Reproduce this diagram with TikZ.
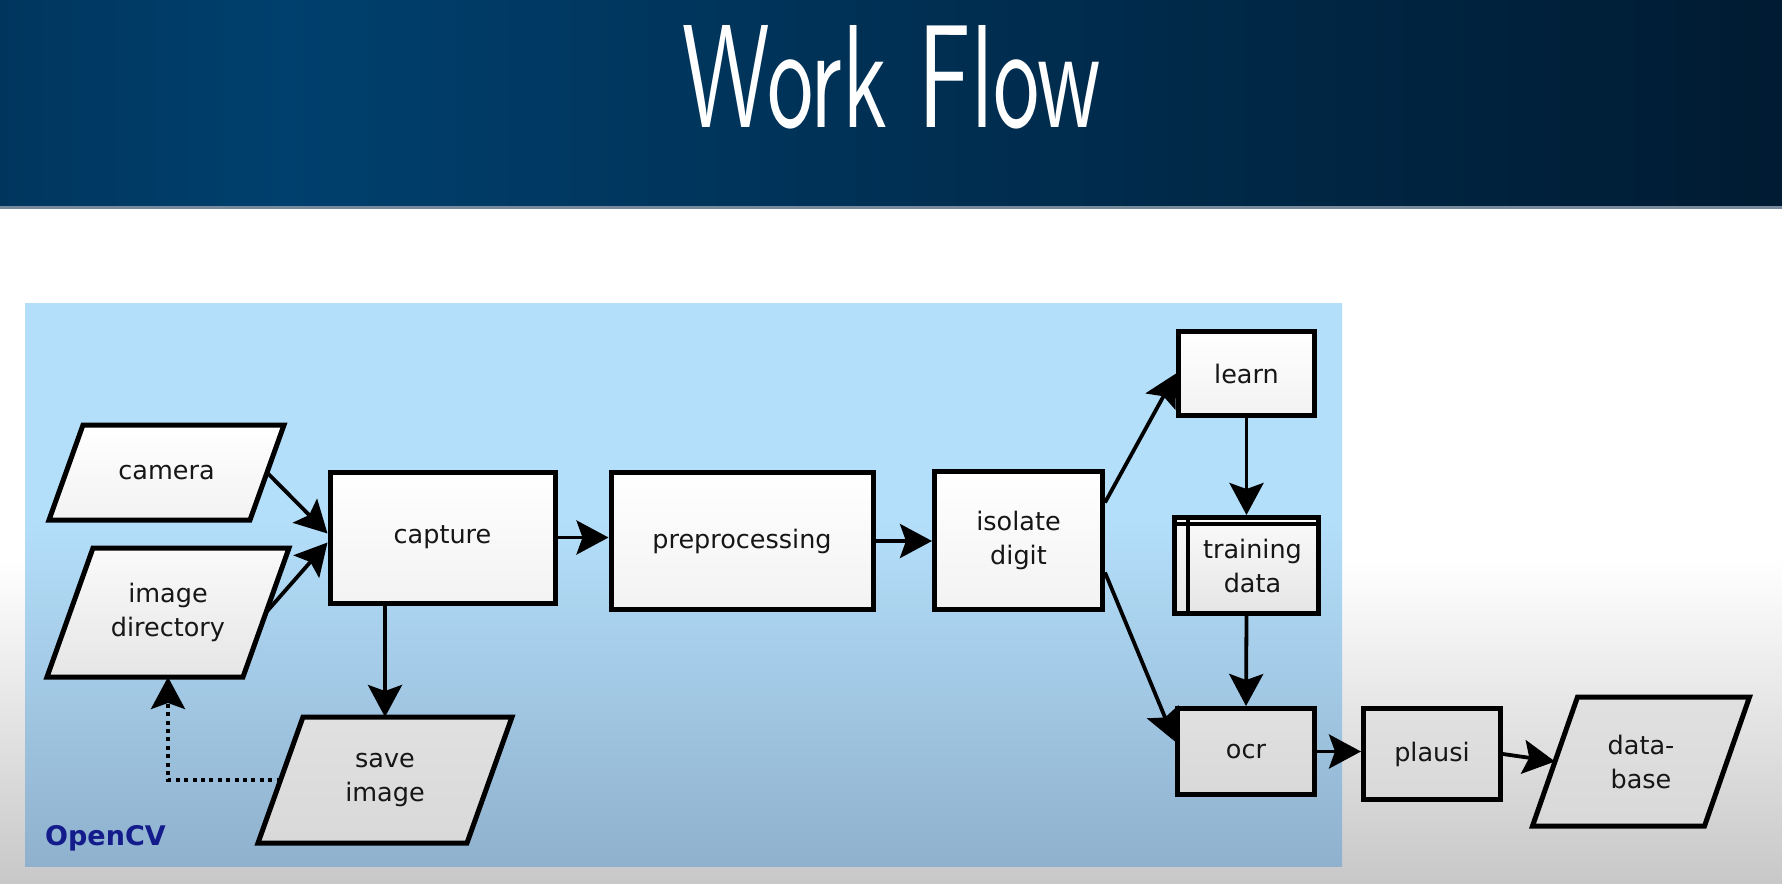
\documentclass[tikz,border=0pt]{standalone}
\usepackage{fontspec}
\usepackage{graphicx}
\setmainfont{DejaVu Sans}
\usetikzlibrary{arrows.meta,calc}

% colours
\definecolor{txt}{RGB}{22,22,22}
\definecolor{hdrL}{RGB}{0,54,94}
\definecolor{hdrM}{RGB}{0,64,110}
\definecolor{hdrC}{RGB}{0,48,84}
\definecolor{hdrR}{RGB}{0,27,50}
\definecolor{hdrline}{RGB}{120,138,156}
\definecolor{pageTop}{RGB}{255,255,255}
\definecolor{pageBot}{RGB}{200,200,200}
\definecolor{panelA}{RGB}{180,223,250}
\definecolor{panelB}{RGB}{143,177,206}
\definecolor{ocvblue}{RGB}{20,28,140}

% background shadings
\pgfdeclarehorizontalshading{hdrshade}{100bp}{color(0bp)=(hdrL); color(25bp)=(hdrL); color(33bp)=(hdrM); color(50bp)=(hdrC); color(75bp)=(hdrR); color(100bp)=(hdrR)}
\pgfdeclareverticalshading{pagefade}{100bp}{color(0bp)=(pageBot); color(25bp)=(pageBot); color(49bp)=(pageTop); color(100bp)=(pageTop)}
\pgfdeclareverticalshading{panelshade}{100bp}{color(0bp)=(panelB); color(25bp)=(panelB); color(56bp)=(panelA); color(100bp)=(panelA)}

\tikzset{
  lbl/.style={font=\fontsize{25.5}{34}\selectfont, text=txt, align=center, inner sep=0pt},
  procbox/.style={lbl, draw=black, line width=5pt},
  whitefill/.style={top color=white, bottom color=white!95!black},
  lightfill/.style={top color=white!98!black, bottom color=white!90!black},
  greyfill/.style={top color=white!88!black, bottom color=white!85!black},
  pgframe/.style={draw=black, line width=5pt, line join=miter},
  flow/.style={line width=3.8pt, -{Stealth[length=32pt,width=34pt,inset=6pt]}},
  dottedflow/.style={flow, dash pattern=on 4pt off 4.4pt},
}

% slanted data box: name, centre x, centre y, edge width, height, slant, fill, text
\newcommand\slantbox[8]{%
  \path[pgframe,#7] ({#2-#4/2+#6/2},{#3-#5/2}) -- ({#2+#4/2+#6/2},{#3-#5/2})
     -- ({#2+#4/2-#6/2},{#3+#5/2}) -- ({#2-#4/2-#6/2},{#3+#5/2}) -- cycle;
  \pgfmathsetmacro\slw{#4-5}%
  \pgfmathsetmacro\slh{#5-5}%
  \node[lbl, minimum width=\slw pt, minimum height=\slh pt, outer sep=2.5pt] (#1) at (#2,#3) {#8};
}

\begin{document}
\begin{tikzpicture}[x=1pt,y=-1pt]
\useasboundingbox (0,0) rectangle (1782,883);

% page background, header band and OpenCV panel
\path[shading=pagefade] (0,207) rectangle (1782,883);
\path[shading=hdrshade] (0,0) rectangle (1782,207);
\fill[hdrline] (0,206) rectangle (1782,208.5);
\path[shading=panelshade] (25,303) rectangle (1342,866);

\node[text=white, anchor=south west, inner sep=0pt] (title) at (682,129)
  {\resizebox{418pt}{102pt}{\sffamily Work Flow}};

\node[font=\bfseries\fontsize{27}{30}\selectfont, text=ocvblue, anchor=base west, inner sep=0pt]
  (opencv) at (45,845) {OpenCV};

% input / output data
\slantbox{camera}{166.5}{472.5}{201}{95}{34}{whitefill}{camera}
\slantbox{imgdir}{168}{612.5}{196}{129}{46}{lightfill}{image\\directory}
\slantbox{saveimg}{385}{780}{209}{126}{45}{greyfill}{save\\image}
\slantbox{database}{1641}{761.5}{172}{129}{45}{greyfill}{data-\\base}

% processing steps
\node[procbox, whitefill, minimum width=225pt, minimum height=131pt] (capture) at (442.5,537.5) {capture};
\node[procbox, whitefill, minimum width=262pt, minimum height=137pt] (preproc) at (742,541) {preprocessing};
\node[procbox, whitefill, minimum width=168pt, minimum height=138pt] (isolate) at (1018.5,540.5) {isolate\\digit};
\node[procbox, whitefill, minimum width=136pt, minimum height=84pt] (learn) at (1246.5,373.5) {learn};
\node[procbox, lightfill, minimum width=144pt, minimum height=96pt] (train) at (1246.5,565.5) {\hspace*{12pt}training\\\hspace*{12pt}data};
\draw[line width=3.5pt] ([xshift=16pt]train.north west) -- ([xshift=16pt]train.south west);
\draw[line width=3.5pt] ([yshift=-9pt]train.north west) -- ([yshift=-9pt]train.north east);
\node[procbox, greyfill, minimum width=137pt, minimum height=86pt] (ocr) at (1246,751.5) {ocr};
\node[procbox, greyfill, minimum width=137pt, minimum height=91pt] (plausi) at (1432,754) {plausi};

% connectors
\draw[flow] (camera.east) -- ([yshift=4pt]capture.west);
\draw[flow] (imgdir.east) -- ([yshift=-5pt]capture.west);
\draw[flow] (capture.east) -- (capture.east -| preproc.west);
\draw[flow] (preproc.east) -- (preproc.east -| isolate.west);
\draw[flow] ([yshift=38pt]isolate.east) -- (learn.west);
\draw[flow] ([yshift=-32pt]isolate.east) -- ([yshift=10pt]ocr.west);
\draw[flow] (learn.south) -- (train.north);
\draw[flow] (train.south) -- (ocr.north);
\draw[flow] (ocr.east) -- (ocr.east -| plausi.west);
\draw[flow] (plausi.east) -- (database.west);
\draw[flow] (capture.south -| saveimg.north) -- (saveimg.north);
\draw[dottedflow] (saveimg.west) -| (imgdir.south);
\end{tikzpicture}
\end{document}
